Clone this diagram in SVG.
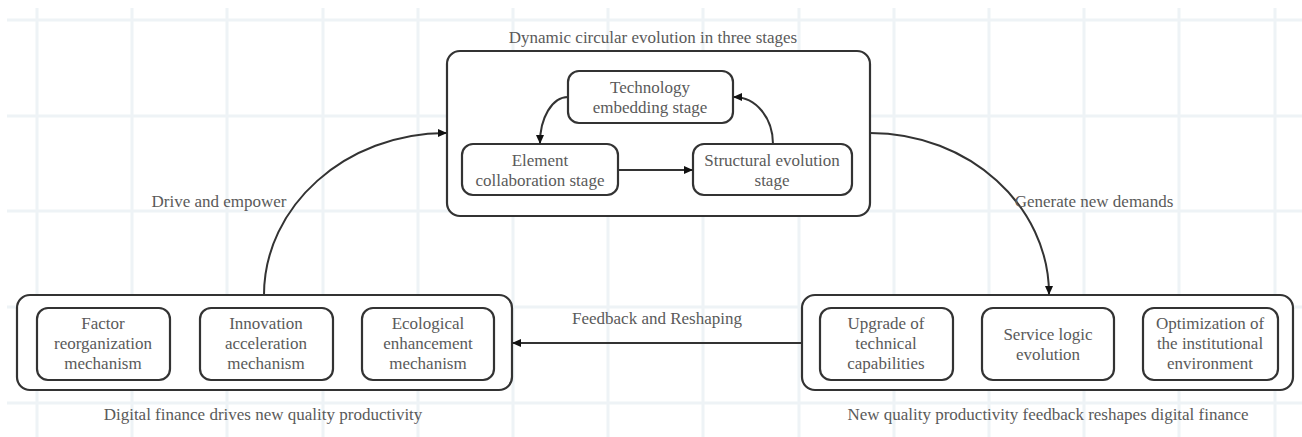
<svg xmlns="http://www.w3.org/2000/svg" width="1302" height="437" viewBox="0 0 1302 437">
<style>
.grid line{stroke:#eef3f6;stroke-width:3}
.node{fill:#fff;stroke:#333;stroke-width:2.2}
text{font-family:"Liberation Serif","Times New Roman",serif;font-size:17px;fill:#5a5a5a;text-anchor:middle}
.conn path,.conn line{fill:none;stroke:#333;stroke-width:2}
</style>
<defs>
<marker id="ah" markerWidth="10" markerHeight="10" refX="8" refY="5" orient="auto" markerUnits="userSpaceOnUse">
<path d="M0,1 L9,5 L0,9 Z" fill="#111"/>
</marker>
</defs>
<rect width="1302" height="437" fill="#fff"/>
<g class="grid">
<line x1="37" y1="8" x2="37" y2="437"/><line x1="132" y1="8" x2="132" y2="437"/><line x1="227" y1="8" x2="227" y2="437"/><line x1="323" y1="8" x2="323" y2="437"/><line x1="418" y1="8" x2="418" y2="437"/><line x1="513" y1="8" x2="513" y2="437"/><line x1="608" y1="8" x2="608" y2="437"/><line x1="703" y1="8" x2="703" y2="437"/><line x1="799" y1="8" x2="799" y2="437"/><line x1="894" y1="8" x2="894" y2="437"/><line x1="989" y1="8" x2="989" y2="437"/><line x1="1084" y1="8" x2="1084" y2="437"/><line x1="1179" y1="8" x2="1179" y2="437"/><line x1="1275" y1="8" x2="1275" y2="437"/>
<line x1="7" y1="20" x2="1302" y2="20"/><line x1="7" y1="116" x2="1302" y2="116"/><line x1="7" y1="211" x2="1302" y2="211"/><line x1="7" y1="307" x2="1302" y2="307"/><line x1="7" y1="403" x2="1302" y2="403"/>
</g>
<g id="top-group">
<text x="653" y="43">Dynamic circular evolution in three stages</text>
<rect class="node" x="447" y="51" width="423" height="165" rx="13"/>
</g>
<g id="tech"><rect class="node" x="568" y="71" width="165" height="52" rx="11"/><text x="650" y="93">Technology</text><text x="650" y="113">embedding stage</text></g>
<g id="element"><rect class="node" x="462" y="144" width="156" height="51" rx="11"/><text x="540" y="166">Element</text><text x="540" y="186">collaboration stage</text></g>
<g id="structural"><rect class="node" x="693" y="144" width="159" height="51" rx="11"/><text x="772" y="166">Structural evolution</text><text x="772" y="186">stage</text></g>
<g id="left-group">
<rect class="node" x="17" y="295" width="495" height="95" rx="13"/>
<text x="263" y="420">Digital finance drives new quality productivity</text>
</g>
<g id="factor"><rect class="node" x="37" y="308" width="133" height="72" rx="11"/><text x="103" y="329">Factor</text><text x="103" y="349">reorganization</text><text x="103" y="369">mechanism</text></g>
<g id="innovation"><rect class="node" x="200" y="308" width="133" height="72" rx="11"/><text x="266" y="329">Innovation</text><text x="266" y="349">acceleration</text><text x="266" y="369">mechanism</text></g>
<g id="ecological"><rect class="node" x="362" y="308" width="132" height="72" rx="11"/><text x="428" y="329">Ecological</text><text x="428" y="349">enhancement</text><text x="428" y="369">mechanism</text></g>
<g id="right-group">
<rect class="node" x="802" y="295" width="491" height="95" rx="13"/>
<text x="1048" y="420">New quality productivity feedback reshapes digital finance</text>
</g>
<g id="upgrade"><rect class="node" x="820" y="308" width="133" height="72" rx="11"/><text x="886" y="329">Upgrade of</text><text x="886" y="349">technical</text><text x="886" y="369">capabilities</text></g>
<g id="service"><rect class="node" x="982" y="308" width="132" height="72" rx="11"/><text x="1048" y="340">Service logic</text><text x="1048" y="360">evolution</text></g>
<g id="optimization"><rect class="node" x="1143" y="308" width="135" height="72" rx="11"/><text x="1210" y="329">Optimization of</text><text x="1210" y="349">the institutional</text><text x="1210" y="369">environment</text></g>
<g class="conn" id="connectors">
<path d="M264,295 C264,206 346,133 446,133" marker-end="url(#ah)"/>
<path d="M870,133 C969,133 1049,206 1049,294" marker-end="url(#ah)"/>
<line x1="802" y1="343" x2="513" y2="343" marker-end="url(#ah)"/>
<path d="M568,97 C552,97 540,118 540,143" marker-end="url(#ah)"/>
<path d="M773,144 C773,118 756,97 734,97" marker-end="url(#ah)"/>
<line x1="618" y1="170" x2="692" y2="170" marker-end="url(#ah)"/>
<text x="219" y="207">Drive and empower</text>
<text x="1094" y="207">Generate new demands</text>
<text x="657" y="324">Feedback and Reshaping</text>
</g>
</svg>
